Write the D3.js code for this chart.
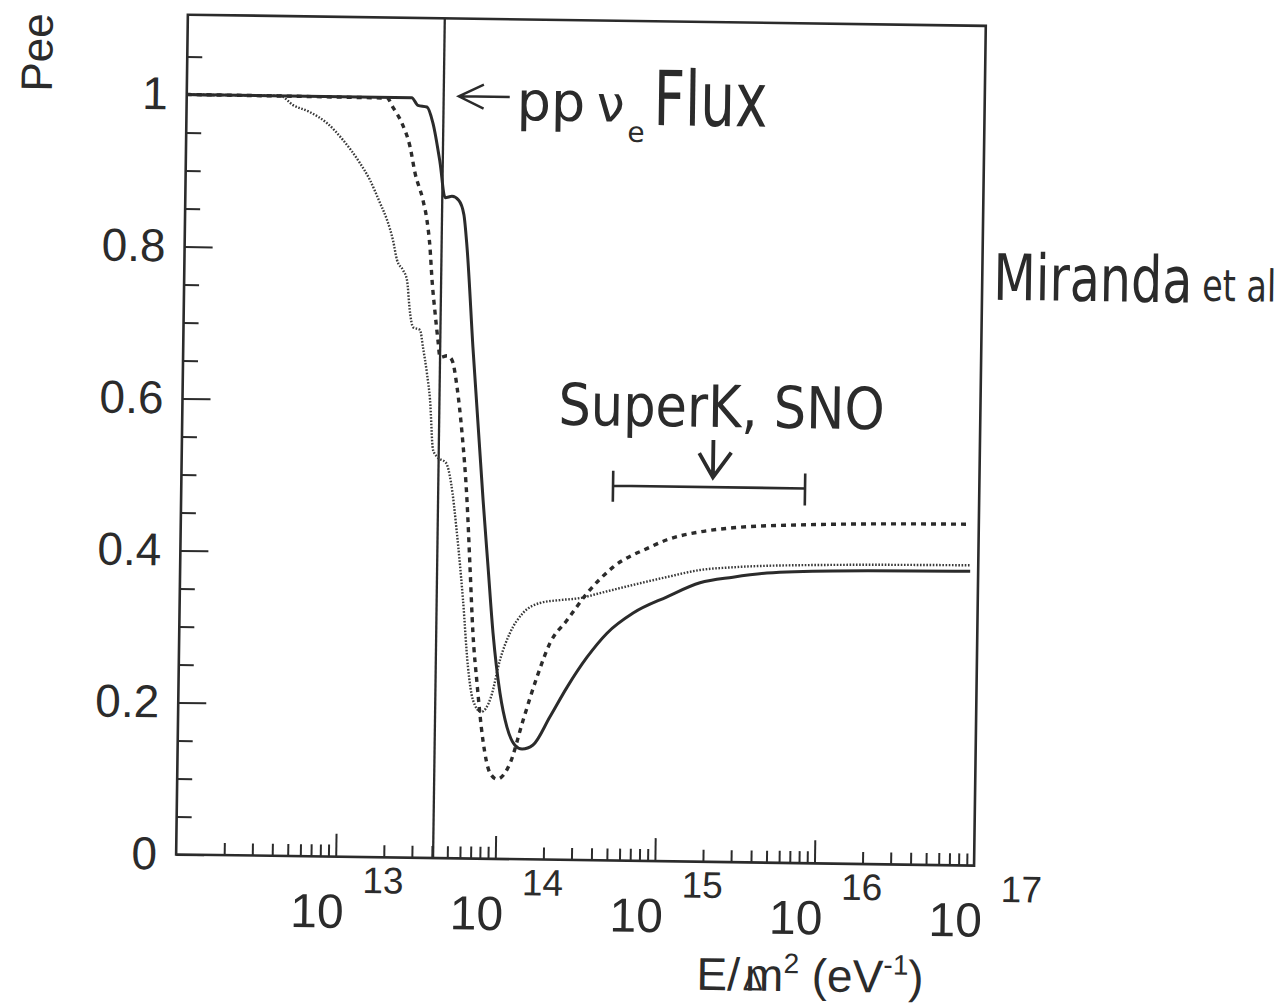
<!DOCTYPE html>
<html><head><meta charset="utf-8">
<script src="https://cdn.jsdelivr.net/npm/d3@7"></script>
<style>body{margin:0;background:#fff}svg{display:block}</style>
</head><body>
<svg id="chart" width="1282" height="1003"></svg>
<script>
// ---------- data ----------
const solidLogE = [12, 13.41, 13.449, 13.506, 13.545, 13.593, 13.628, 13.671, 13.713, 13.747, 13.769, 13.815, 13.892, 13.929, 13.966, 14.015, 14.061, 14.113, 14.158, 14.226, 14.33, 14.434, 14.557, 14.68, 14.842, 15.053, 15.258, 15.464, 15.677, 16.091, 16.95];
const solidP    = [1, 1, 0.99, 0.988, 0.967, 0.915, 0.869, 0.871, 0.866, 0.847, 0.805, 0.673, 0.472, 0.384, 0.297, 0.218, 0.174, 0.15, 0.145, 0.1505, 0.188, 0.227, 0.267, 0.299, 0.326, 0.348, 0.367, 0.375, 0.381, 0.385, 0.387];

const dashedLogE = [12, 13.255, 13.293, 13.351, 13.404, 13.437, 13.489, 13.516, 13.537, 13.553, 13.575, 13.595, 13.61, 13.654, 13.685, 13.719, 13.754, 13.791, 13.816, 13.84, 13.87, 13.912, 13.959, 14.004, 14.084, 14.162, 14.245, 14.324, 14.429, 14.551, 14.712, 14.942, 15.048, 15.254, 15.461, 15.88, 16.3, 16.95];
const dashedP    = [1, 0.999, 0.987, 0.966, 0.935, 0.901, 0.8655, 0.839, 0.804, 0.7605, 0.717, 0.682, 0.659, 0.661, 0.6555, 0.62, 0.56, 0.472, 0.3835, 0.297, 0.231, 0.156, 0.113, 0.105, 0.126, 0.183, 0.24, 0.285, 0.3155, 0.351, 0.386, 0.413, 0.423, 0.434, 0.44, 0.445, 0.4475, 0.449];

const dottedLogE = [12, 12.584, 12.667, 12.774, 12.881, 12.983, 13.091, 13.155, 13.22, 13.266, 13.305, 13.332, 13.37, 13.396, 13.418, 13.438, 13.482, 13.502, 13.529, 13.551, 13.574, 13.602, 13.657, 13.69, 13.731, 13.775, 13.812, 13.846, 13.898, 13.959, 14.012, 14.072, 14.152, 14.257, 14.382, 14.508, 14.633, 14.839, 15.051, 15.257, 15.462, 15.883, 16.95];
const dottedP    = [1, 1, 0.988, 0.979, 0.965, 0.943, 0.913, 0.891, 0.861, 0.8385, 0.812, 0.786, 0.773, 0.76, 0.717, 0.698, 0.6945, 0.672, 0.638, 0.6025, 0.537, 0.5276, 0.52, 0.4937, 0.428, 0.34, 0.252, 0.2086, 0.193, 0.213, 0.262, 0.2975, 0.324, 0.3375, 0.3417, 0.3447, 0.3516, 0.363, 0.374, 0.3838, 0.388, 0.392, 0.395];

const ppFluxLogE = 13.61;                 // vertical "pp νe Flux" line
const superKRangeLogE = [14.705, 15.908]; // SuperK, SNO range bar
const superKBarP = 0.493;
const superKArrowLogE = 15.33;
const superKArrowP = [0.555, 0.506];

const yMajorTicks = [0, 0.2, 0.4, 0.6, 0.8, 1];
const yTickLabels = ["0", "0.2", "0.4", "0.6", "0.8", "1"];
const yMinorTicks = [0.05, 0.1, 0.15, 0.25, 0.3, 0.35, 0.45, 0.5, 0.55, 0.65, 0.7, 0.75, 0.85, 0.9, 0.95, 1.05];
const xMajorTicks = [1e13, 1e14, 1e15, 1e16];
const xMinorDecades = [12, 13, 14, 15, 16];
const xMinorMults = [2, 3, 4, 5, 6, 7, 8, 9];
const xLabelExps = ["13", "14", "15", "16", "17"];

// ---------- drawing ----------
const ink = '#2b2b2b';
const sans = "'Liberation Sans', Arial, Helvetica, sans-serif";
const hand = "'DejaVu Sans', 'Noto Sans', sans-serif";

const svg = d3.select('#chart');
svg.append('rect').attr('width',1282).attr('height',1003).attr('fill','#fff');
const g = svg.append('g').attr('transform','rotate(0.8,578,437)');

const x = d3.scaleLog().domain([1e12, 1e17]).range([182, 980]);
const y = d3.scaleLinear().domain([0, 1.1]).range([860, 24]);
const yTop = 1.105;

// y axis
const yMaj = g.append('g').attr('transform',`translate(${x(1e12)},0)`)
  .call(d3.axisLeft(y).tickValues(yMajorTicks).tickSize(-28).tickPadding(19)
        .tickFormat((d,i)=>yTickLabels[i]));
const yMin = g.append('g').attr('transform',`translate(${x(1e12)},0)`)
  .call(d3.axisLeft(y).tickValues(yMinorTicks).tickSize(-15).tickFormat(''));
// x axis
const xMinorTicks = [];
xMinorDecades.forEach(dc => xMinorMults.forEach(m => xMinorTicks.push(m*Math.pow(10,dc))));
const xMaj = g.append('g').attr('transform',`translate(0,${y(0)})`)
  .call(d3.axisBottom(x).tickValues(xMajorTicks).tickSize(-23).tickFormat(''));
const xMin = g.append('g').attr('transform',`translate(0,${y(0)})`)
  .call(d3.axisBottom(x).tickValues(xMinorTicks).tickSize(-12).tickFormat(''));

[yMaj,yMin,xMaj,xMin].forEach(a=>{
  a.select('.domain').remove();
  a.selectAll('line').attr('stroke',ink).attr('stroke-width',2);
});
yMaj.selectAll('text').attr('font-family',sans).attr('font-size',46).attr('fill',ink);

// x tick labels 10^n
xLabelExps.forEach(e=>{
  const px = x(Math.pow(10, +e));
  g.append('text').attr('x',px-18).attr('y',931).attr('text-anchor','middle')
    .attr('font-family',sans).attr('font-size',48).attr('fill',ink).text('10');
  g.append('text').attr('x',px+27).attr('y',896).attr('text-anchor','start')
    .attr('font-family',sans).attr('font-size',37).attr('fill',ink).text(e);
});

// frame
g.append('rect').attr('x',x(1e12)).attr('y',y(yTop))
  .attr('width',x(1e17)-x(1e12)).attr('height',y(0)-y(yTop))
  .attr('fill','none').attr('stroke',ink).attr('stroke-width',2.6);

// pp flux vertical line
g.append('line').attr('x1',x(Math.pow(10,ppFluxLogE))).attr('x2',x(Math.pow(10,ppFluxLogE)))
  .attr('y1',y(yTop)).attr('y2',y(0)).attr('stroke',ink).attr('stroke-width',2.3);

// curves
const line = d3.line().x(d=>x(Math.pow(10,d[0]))).y(d=>y(d[1])).curve(d3.curveMonotoneX);
const zip = (a,b)=>a.map((v,i)=>[v,b[i]]);
g.append('path').attr('d',line(zip(dottedLogE,dottedP))).attr('fill','none')
  .attr('stroke','#3a3a3a').attr('stroke-width',2.4).attr('stroke-dasharray','1.6 1.6');
g.append('path').attr('d',line(zip(dashedLogE,dashedP))).attr('fill','none')
  .attr('stroke',ink).attr('stroke-width',3.4).attr('stroke-dasharray','5 5');
g.append('path').attr('d',line(zip(solidLogE,solidP))).attr('fill','none')
  .attr('stroke',ink).attr('stroke-width',3);

// Pee label
g.append('text').attr('transform','translate(47,60) rotate(-90)').attr('text-anchor','middle')
  .attr('font-family',sans).attr('font-size',44).attr('fill',ink).text('Pee');

// x axis title (Δ written over the m, as in the original)
const xt = g.append('text').attr('x',704).attr('y',988).attr('font-family',sans)
  .attr('font-size',46).attr('fill',ink);
xt.append('tspan').text('E/');
xt.append('tspan').attr('font-size',30).attr('dx',3).attr('letter-spacing','-17px').text('Δ');
xt.append('tspan').attr('dx',-1).text('m');
xt.append('tspan').attr('dy',-18).attr('font-size',28).text('2');
xt.append('tspan').attr('dy',18).text('\u00a0(eV');
xt.append('tspan').attr('dy',-18).attr('font-size',28).text('-1');
xt.append('tspan').attr('dy',18).text(')');

// pp νe Flux annotation
g.append('path').attr('d','M505,98 L454,98 M479,86 L454,98 L479,110')
  .attr('stroke',ink).attr('stroke-width',2.4).attr('fill','none');
const ppt = g.append('text').attr('font-family',hand).attr('fill',ink);
ppt.append('tspan').attr('x',512).attr('y',121).attr('font-size',54).text('pp');
ppt.append('tspan').attr('x',592).attr('y',121).attr('font-size',50).text('ν');
ppt.append('tspan').attr('x',623).attr('y',141).attr('font-size',28).text('e');
g.append('text').attr('transform','translate(649,124) scale(0.72,1)').attr('font-family',hand)
  .attr('font-size',76).attr('fill',ink).text('Flux');

// SuperK, SNO annotation
g.append('text').attr('transform','translate(558,425) scale(0.88,1)').attr('font-family',hand)
  .attr('font-size',58).attr('fill',ink).text('SuperK, SNO');
const ax = x(Math.pow(10,superKArrowLogE));
g.append('path').attr('d',`M${ax},${y(superKArrowP[0])} L${ax},${y(superKArrowP[1])} M${ax-14},${y(superKArrowP[1])-24} L${ax},${y(superKArrowP[1])} L${ax+18},${y(superKArrowP[1])-25}`)
  .attr('fill','none').attr('stroke',ink).attr('stroke-width',3.8);
const bx0 = x(Math.pow(10,superKRangeLogE[0])), bx1 = x(Math.pow(10,superKRangeLogE[1])), by = y(superKBarP);
g.append('path').attr('d',`M${bx0},${by-15} L${bx0},${by+16} M${bx0},${by} L${bx1},${by} M${bx1},${by-15} L${bx1},${by+17}`)
  .attr('fill','none').attr('stroke',ink).attr('stroke-width',2.6);

// Miranda et al
g.append('text').attr('transform','translate(991,294) scale(0.77,1)').attr('font-family',hand)
  .attr('font-size',64).attr('fill',ink).text('Miranda');
g.append('text').attr('transform','translate(1200,292) scale(0.76,1)').attr('font-family',hand)
  .attr('font-size',44).attr('fill',ink).text('et al');
</script>
</body></html>
